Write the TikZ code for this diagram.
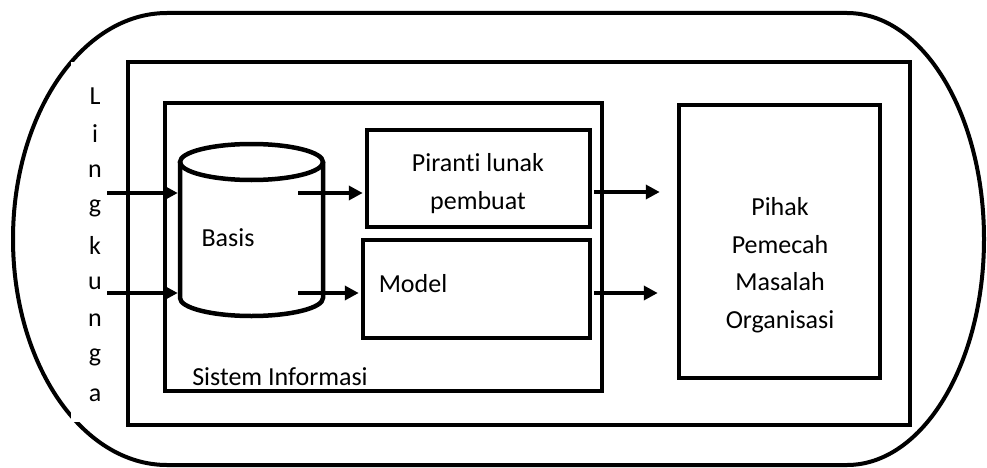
\documentclass[tikz,border=0pt]{standalone}
\usepackage{fontspec}
\setmainfont[Ligatures=NoCommon,RawFeature={-liga;-clig;-calt;-dlig}]{Carlito}
\usetikzlibrary{arrows.meta}
\begin{document}
\begin{tikzpicture}[x=1pt,y=1pt,
  thick line/.style={line width=4.5pt},
  box/.style={draw,line width=4.5pt,inner sep=0pt},
  lbl/.style={font=\fontsize{26}{38}\selectfont,inner sep=0pt,align=center},
  arr/.style={line width=3.5pt,-{Triangle[length=14pt,width=14pt]}}]
\useasboundingbox (0,0) rectangle (987,467);
% outer rounded shape
\draw[thick line,line width=4pt] (167,454) -- (847,454)
  arc[start angle=90,end angle=-90,x radius=137,y radius=226]
  -- (167,2)
  arc[start angle=270,end angle=90,x radius=154,y radius=226] -- cycle;
% white text box for vertical label
\node[fill=white,minimum width=49pt,minimum height=360pt,inner sep=0pt] (envbox) at (95.5,225) {};
% boxes
\node[box,minimum width=782pt,minimum height=363pt] (org) at (519,223.5) {};
\node[box,minimum width=437pt,minimum height=288pt] (si) at (383.5,220) {};
\node[box,minimum width=223pt,minimum height=97pt] (piranti) at (478.5,288.5) {};
\node[box,minimum width=227pt,minimum height=98pt] (model) at (476.5,178) {};
\node[box,minimum width=201pt,minimum height=273pt] (pihak) at (779.5,225.5) {};
% cylinder
\draw[thick line] (180,305) -- (180,169)
  arc[start angle=180,end angle=360,x radius=71.5,y radius=18] -- (323,305);
\draw[thick line] (251.5,305) ellipse[x radius=71.5,y radius=18];
\node[minimum width=143pt,minimum height=136pt,inner sep=0pt] (cyl) at (251.5,237) {};
% texts
\node[lbl] (tpir) at (478,283) {Piran\kern0pt ti lunak\\pembuat};
\node[lbl] (tbasis) at (228,229) {Basis};
\node[lbl] (tmodel) at (413,183) {Model};
\node[lbl] (tsi) at (280,90) {Sistem Informasi};
\node[lbl,font=\fontsize{26}{37.5}\selectfont] (tpihak) at (780,202) {Pihak\\Pemecah\\Masalah\\Organisasi};
\foreach \ch [count=\i] in {L,i,n,g,k,u,n,g,a}
  \node[lbl] (v\i) at (95,{371-37.4*(\i-1)}) {\ch};
% arrows
\coordinate (in1) at (107,274);
\coordinate (in2) at (107,174);
\draw[arr] (in1) -- ([xshift=-2pt]cyl.west |- in1);
\draw[arr] (in2) -- ([xshift=-2pt]cyl.west |- in2);
\coordinate (c1) at (298,274);
\coordinate (c2) at (298,174);
\draw[arr] (c1) -- ([xshift=-2pt]piranti.west |- c1);
\draw[arr] (c2) -- ([xshift=-2pt]model.west |- c2);
\draw[arr] ([xshift=2pt]piranti.east |- 0,275) -- ([xshift=-17pt]pihak.west |- 0,275);
\draw[arr] ([xshift=2pt]model.east |- 0,174) -- ([xshift=-19pt]pihak.west |- 0,174);
\end{tikzpicture}
\end{document}
